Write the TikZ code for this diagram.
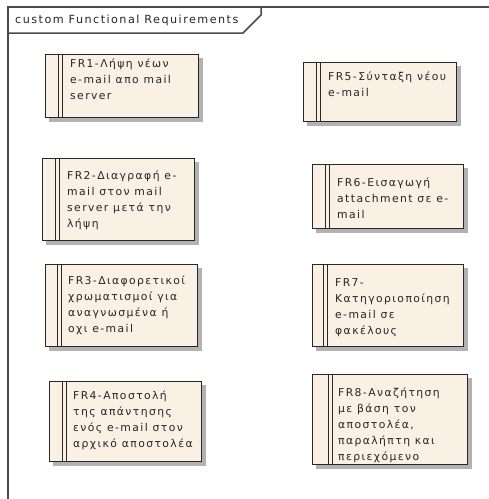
\documentclass[tikz,border=0pt]{standalone}
\usepackage{fontspec}
\setmainfont{DejaVu Sans}
\newfontfamily\reqfont[LetterSpace=13]{DejaVu Sans}
\usetikzlibrary{calc}

\definecolor{reqfill}{RGB}{250,240,228}
\definecolor{frameline}{RGB}{75,75,75}
\definecolor{boxline}{RGB}{40,40,40}
\definecolor{shadowgray}{RGB}{178,178,178}

\tikzset{
  frameline/.style={draw=frameline, line width=1.5pt},
  reqbox/.style={draw=boxline, line width=0.9pt, fill=reqfill, inner sep=0pt, anchor=north west},
  sidebar/.style={draw=boxline, line width=0.9pt},
  reqshadow/.style={fill=shadowgray},
  reqtext/.style={anchor=north west, inner sep=0pt, align=left, text=black!85,
    font=\reqfont\fontsize{10.8}{16}\selectfont},
  titletext/.style={anchor=west, inner sep=0pt, text=black!85,
    font=\reqfont\fontsize{11.2}{13}\selectfont},
}

% draw one requirement box: name, left, top, width, height, sidebar offset
\newcommand\reqshape[6]{%
  \node[reqbox, minimum width=#4pt, minimum height=#5pt] (#1) at (#2,#3) {};
  \fill[reqshadow] ($(#1.north east)+(0.5,4)$) rectangle ($(#1.south east)+(4,4)$);
  \fill[reqshadow] ($(#1.south west)+(4,0.5)$) rectangle ($(#1.south east)+(4,4)$);
  \draw[sidebar] ($(#1.north west)+(#6,0)$) -- ($(#1.south west)+(#6,0)$);
  \draw[sidebar] ($(#1.north west)+(#6+4,0)$) -- ($(#1.south west)+(#6+4,0)$);
}

\begin{document}
\begin{tikzpicture}[x=1pt, y=-1pt]
\useasboundingbox[fill=white] (0,0) rectangle (489,499);

% package frame with its name tab
\coordinate (fbl) at (8,499);
\coordinate (ftl) at (8,7);
\coordinate (ftr) at (489,7);
\coordinate (tabl) at (8,33);
\coordinate (tabc) at (243,33);
\coordinate (tabd) at (261,15);
\coordinate (tabt) at (261,7);
\draw[frameline] (fbl) -- (ftl) -- (ftr);
\draw[frameline] (tabl) -- (tabc) -- (tabd) -- (tabt);
\node[titletext] (title) at (15,20) {custom Functional Requirements};

% left column
\reqshape{fr1}{45}{54}{153}{63}{13}
\node[reqtext] (fr1t) at (70,58) {\rule{0pt}{9pt}FR1-Λήψη νέων\\e-mail απο mail\\server};

\reqshape{fr2}{42}{158}{152}{82}{13}
\node[reqtext] (fr2t) at (67,170) {\rule{0pt}{9pt}FR2-Διαγραφή e-\\mail στον mail\\server μετά την\\λήψη};

\reqshape{fr3}{45}{264}{152}{82}{12}
\node[reqtext] (fr3t) at (68,275) {\rule{0pt}{9pt}FR3-Διαφορετικοί\\χρωματισμοί για\\αναγνωσμένα ή\\οχι e-mail};

\reqshape{fr4}{49}{381}{152}{80}{13}
\node[reqtext] (fr4t) at (73,390) {\rule{0pt}{9pt}FR4-Αποστολή\\της απάντησης\\ενός e-mail στον\\αρχικό αποστολέα};

% right column
\reqshape{fr5}{303}{62}{153}{59}{13}
\node[reqtext] (fr5t) at (328,71) {\rule{0pt}{9pt}FR5-Σύνταξη νέου\\e-mail};

\reqshape{fr6}{312}{164}{151}{64}{13}
\node[reqtext] (fr6t) at (337,177) {\rule{0pt}{9pt}FR6-Εισαγωγή\\attachment σε e-\\mail};

\reqshape{fr7}{312}{264}{151}{82}{11}
\node[reqtext] (fr7t) at (335,277) {\rule{0pt}{9pt}FR7-\\Κατηγοριοποίηση\\e-mail σε\\φακέλους};

\reqshape{fr8}{312}{374}{155}{90}{16}
\node[reqtext] (fr8t) at (338,387) {\rule{0pt}{9pt}FR8-Αναζήτηση\\με βάση τον\\αποστολέα,\\παραλήπτη και\\περιεχόμενο};
\end{tikzpicture}
\end{document}
